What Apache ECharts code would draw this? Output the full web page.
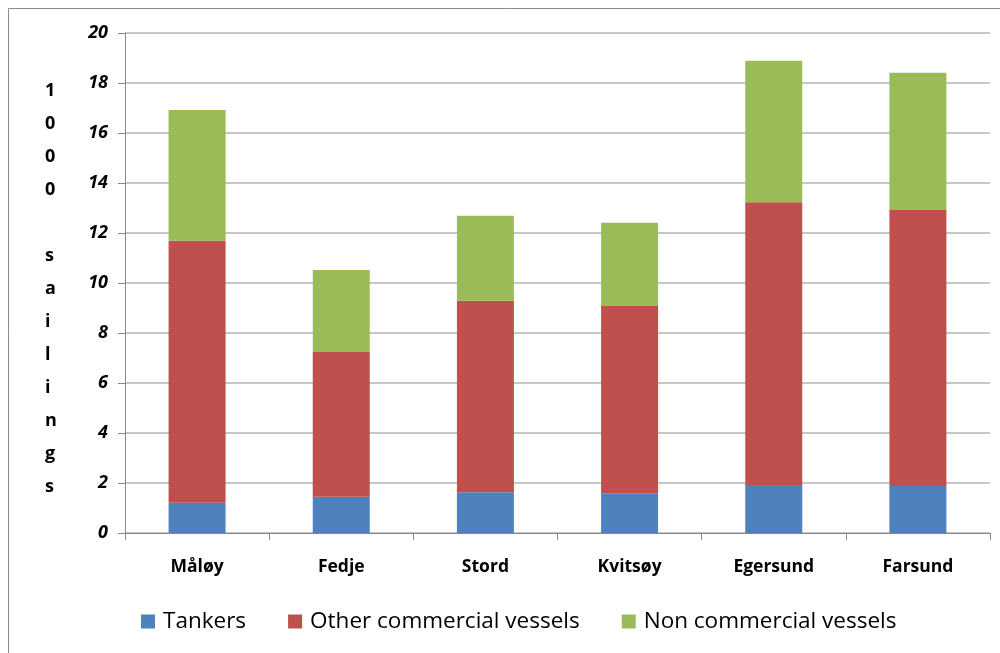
<!DOCTYPE html>
<html>
<head>
<meta charset="utf-8">
<script src="https://cdn.jsdelivr.net/npm/echarts@6/dist/echarts.min.js"></script>
<style>
  html, body { margin: 0; padding: 0; background: #fff; }
  #chart { width: 1000px; height: 653px; }
</style>
</head>
<body>
<div id="chart"></div>
<script>
// ports / stations
var stations = ["Måløy", "Fedje", "Stord", "Kvitsøy", "Egersund", "Farsund"];
// 1000 sailings, per vessel type
var tankers = [1.21, 1.45, 1.63, 1.59, 1.92, 1.88];
var otherCommercial = [10.48, 5.79, 7.66, 7.49, 11.31, 11.04];
var nonCommercial = [5.23, 3.28, 3.40, 3.33, 5.66, 5.49];
var yTicks = { min: 0, max: 20, interval: 2 };

var chart = echarts.init(document.getElementById("chart"));

var option = {
  backgroundColor: "#fff",
  animation: false,
  grid: { left: 125, right: 10, top: 33, bottom: 120 },
  graphic: [
    {
      type: "rect",
      shape: { x: 8.5, y: 8.5, width: 1000, height: 700 },
      style: { fill: "none", stroke: "#8c8c8c", lineWidth: 1 },
      silent: true
    },
    {
      // vertical y-axis title, one letter per line
      type: "text",
      left: 45,
      top: 74,
      style: {
        text: "1\n0\n0\n0\n\ns\na\ni\nl\ni\nn\ng\ns",
        font: "bold 18px 'Open Sans'",
        fill: "#000",
        lineHeight: 33,
        align: "center"
      }
    }
  ],
  legend: {
    bottom: 15,
    left: 136,
    itemWidth: 14,
    itemHeight: 14,
    itemGap: 42,
    icon: "rect",
    textStyle: {
      fontFamily: "Open Sans",
      fontSize: 22.5,
      color: "#000",
      padding: [0, 0, 0, 3]
    },
    data: ["Tankers", "Other commercial vessels", "Non commercial vessels"]
  },
  xAxis: {
    type: "category",
    data: stations,
    axisLine: { lineStyle: { color: "#888", width: 1 } },
    axisTick: { show: true, length: 7, lineStyle: { color: "#888" } },
    axisLabel: {
      margin: 25,
      fontFamily: "Open Sans",
      fontWeight: "bold",
      fontSize: 17.5,
      color: "#000"
    }
  },
  yAxis: {
    type: "value",
    min: yTicks.min,
    max: yTicks.max,
    interval: yTicks.interval,
    axisLine: { show: true, lineStyle: { color: "#888", width: 1 } },
    axisTick: { show: true, length: 7, lineStyle: { color: "#888" } },
    splitLine: { lineStyle: { color: "#b4b4b4", width: 1.5 } },
    axisLabel: {
      margin: 17,
      fontFamily: "Open Sans",
      fontWeight: "bold",
      fontStyle: "italic",
      fontSize: 18,
      color: "#000"
    }
  },
  series: [
    {
      name: "Tankers",
      type: "bar",
      stack: "all",
      barWidth: 57,
      itemStyle: { color: "#4F81BD" },
      data: tankers
    },
    {
      name: "Other commercial vessels",
      type: "bar",
      stack: "all",
      barWidth: 57,
      itemStyle: { color: "#C0504D" },
      data: otherCommercial
    },
    {
      name: "Non commercial vessels",
      type: "bar",
      stack: "all",
      barWidth: 57,
      itemStyle: { color: "#9BBB59" },
      data: nonCommercial
    }
  ]
};

chart.setOption(option);
window.addEventListener("resize", function() {
  chart.resize();
});
</script>
</body>
</html>
